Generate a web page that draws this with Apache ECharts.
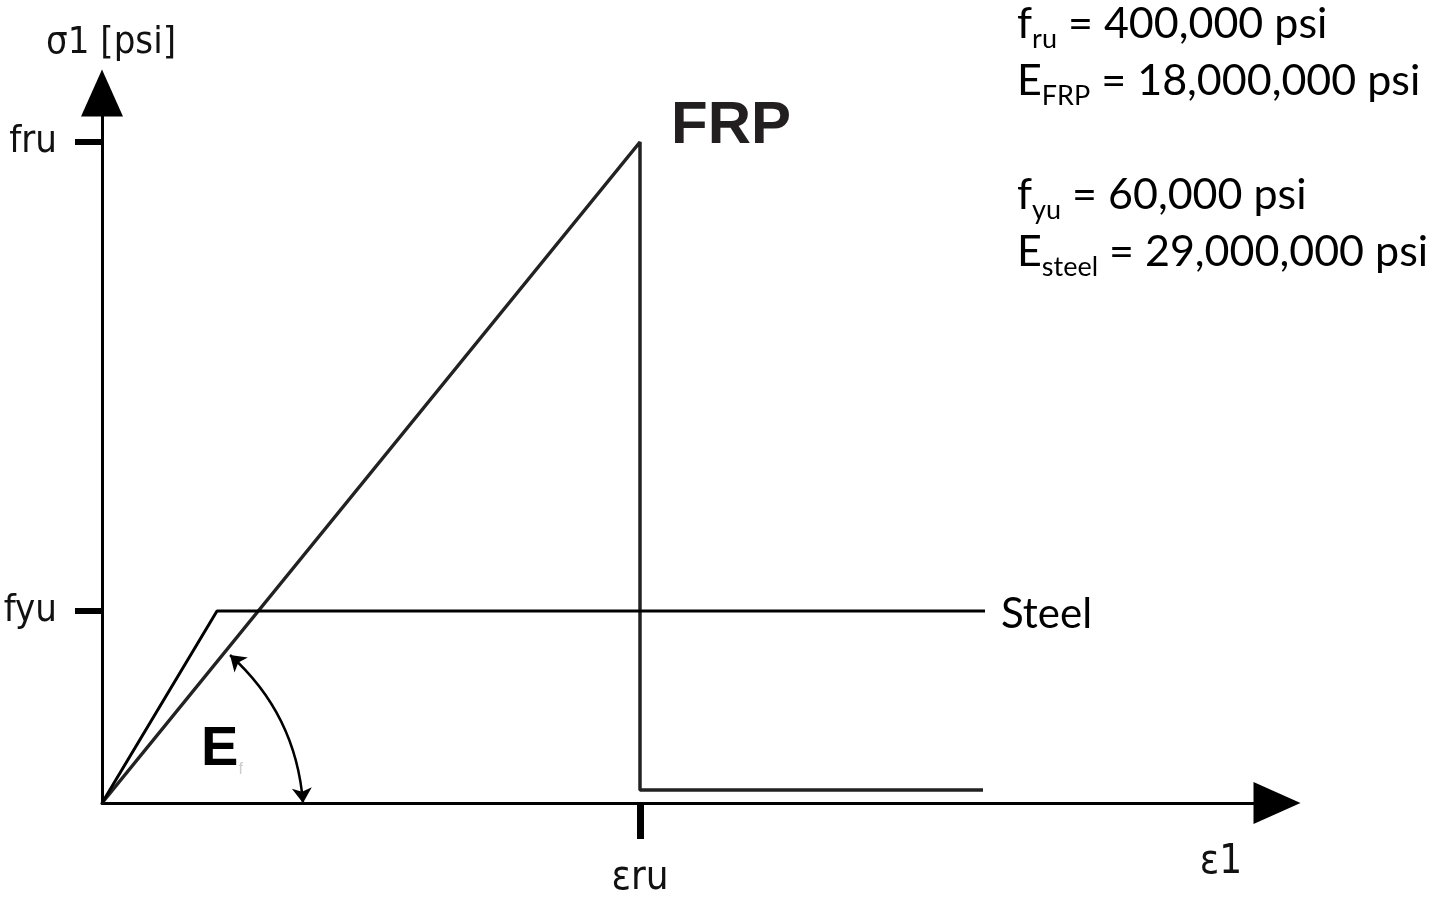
<!DOCTYPE html>
<html>
<head>
<meta charset="utf-8">
<script src="https://cdn.jsdelivr.net/npm/echarts@6/dist/echarts.min.js"></script>
<style>
html,body{margin:0;padding:0;background:#fff;}
#chart{width:1449px;height:897px;}
</style>
</head>
<body>
<div id="chart"></div>
<script>
// Schematic stress-strain curves (arbitrary units)
const steelCurve = [[0, 0], [11.5, 19.2], [88.3, 19.2]];
const frpCurve = [[0, 0], [53.8, 66.1], [53.8, 1.3], [88.1, 1.3]];
const yTickValues = [66.1, 19.2];
const yTickLabels = ['fru', 'fyu'];
const xTickValues = [53.8];
const xTickLabels = ['εru'];
const efArc = [[12.8, 14.8], [20.1, 0]];
const efLabelPos = [12.0, 5.3];
const paramLines = [
  ['f', 'ru', ' = 400,000 psi'],
  ['E', 'FRP', ' = 18,000,000 psi'],
  null,
  ['f', 'yu', ' = 60,000 psi'],
  ['E', 'steel', ' = 29,000,000 psi']
];

const condensed = "'DejaVu Sans Condensed','DejaVu Sans','Noto Sans',sans-serif";
const humanist = "Lato,'Open Sans',sans-serif";

const paramText = paramLines.map(l => l ? `{m|${l[0]}}{s|${l[1]}}{m|${l[2]}}` : '').join('\n');

const chart = echarts.init(document.getElementById('chart'));
chart.setOption({
  backgroundColor: '#ffffff',
  animation: false,
  title: {
    text: paramText,
    left: 1017,
    top: -4,
    padding: 0,
    textStyle: {
      fontFamily: humanist,
      fontSize: 43,
      fontWeight: 'normal',
      color: '#000',
      lineHeight: 57,
      rich: {
        m: { fontFamily: humanist, fontSize: 43, color: '#000', lineHeight: 57 },
        s: { fontFamily: humanist, fontSize: 27, color: '#000', lineHeight: 30, verticalAlign: 'bottom' }
      }
    }
  },
  grid: { left: 102, right: 172, top: 93, bottom: 94, containLabel: false, outerBoundsMode: 'none' },
  xAxis: {
    type: 'value',
    min: 0,
    max: 117.5,
    name: 'ε1',
    nameLocation: 'end',
    nameGap: -56,
    nameTextStyle: {
      fontFamily: condensed, fontSize: 40, color: '#111',
      align: 'center', verticalAlign: 'top', padding: [40, 0, 0, 0]
    },
    splitLine: { show: false },
    axisLine: {
      show: true, onZero: false,
      symbol: ['none', 'triangle'], symbolSize: [42, 47],
      lineStyle: { color: '#000', width: 3 }
    },
    axisTick: {
      show: true, customValues: xTickValues, length: 36, inside: false,
      lineStyle: { color: '#000', width: 7 }
    },
    axisLabel: {
      show: true, customValues: xTickValues, margin: 56,
      fontFamily: condensed, fontSize: 40, color: '#111',
      formatter: v => xTickLabels[xTickValues.indexOf(v)] || ''
    }
  },
  yAxis: {
    type: 'value',
    min: 0,
    max: 71,
    name: 'σ1 [psi]',
    nameLocation: 'end',
    nameGap: 31,
    nameTextStyle: {
      fontFamily: condensed, fontSize: 38, color: '#111',
      align: 'center', verticalAlign: 'bottom', padding: [0, 0, 0, 18]
    },
    splitLine: { show: false },
    axisLine: {
      show: true, onZero: false,
      symbol: ['none', 'triangle'], symbolSize: [42, 47],
      lineStyle: { color: '#000', width: 3 }
    },
    axisTick: {
      show: true, customValues: yTickValues, length: 27, inside: false,
      lineStyle: { color: '#000', width: 6 }
    },
    axisLabel: {
      show: true, customValues: yTickValues, margin: 45,
      fontFamily: condensed, fontSize: 38, color: '#111',
      formatter: v => yTickLabels[yTickValues.indexOf(v)] || ''
    }
  },
  series: [
    {
      name: 'Steel',
      type: 'line',
      data: steelCurve.map((p, i) => i === steelCurve.length - 1 ? {
        value: p,
        label: {
          show: true, position: 'right', distance: 16, offset: [0, 3],
          formatter: 'Steel', fontFamily: humanist, fontSize: 42, color: '#000'
        }
      } : p),
      showSymbol: true,
      symbol: 'circle',
      symbolSize: 0,
      lineStyle: { color: '#000', width: 3 },
      itemStyle: { color: '#000' },
      z: 3
    },
    {
      name: 'FRP',
      type: 'line',
      data: frpCurve.map((p, i) => i === 1 ? {
        value: p,
        label: {
          show: true, position: 'right', distance: 31, offset: [0, -16],
          formatter: 'FRP', fontFamily: "'Liberation Sans',Arial,sans-serif",
          fontWeight: 'bold', fontSize: 60, color: '#231f20'
        }
      } : p),
      showSymbol: true,
      symbol: 'circle',
      symbolSize: 0,
      lineStyle: { color: '#222', width: 3.5 },
      itemStyle: { color: '#222' },
      z: 2
    },
    {
      name: 'Ef',
      type: 'scatter',
      data: [{
        value: efLabelPos,
        label: {
          show: true, position: 'inside',
          formatter: '{e|E}{f|f}',
          rich: {
            e: { fontFamily: "'Liberation Sans',Arial,sans-serif", fontWeight: 'bold', fontSize: 56, color: '#000', lineHeight: 56 },
            f: { fontFamily: "'Liberation Sans',Arial,sans-serif", fontSize: 16, color: '#ccc', lineHeight: 20, verticalAlign: 'bottom' }
          }
        }
      }],
      symbolSize: 0,
      itemStyle: { opacity: 1, color: '#000' },
      z: 4
    },
    {
      name: 'EfArc',
      type: 'lines',
      coordinateSystem: 'cartesian2d',
      silent: true,
      symbol: ['arrow', 'arrow'],
      symbolSize: 15,
      lineStyle: { color: '#000', width: 2.5, opacity: 1, curveness: 0.2 },
      data: [{ coords: efArc }],
      z: 4
    }
  ]
});
</script>
</body>
</html>
